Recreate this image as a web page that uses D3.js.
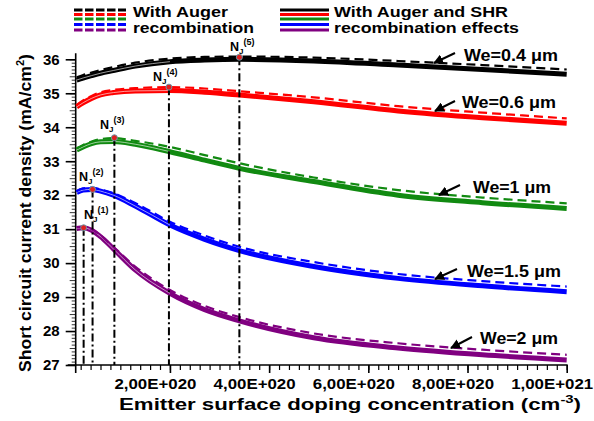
<!DOCTYPE html>
<html>
<head>
<meta charset="utf-8">
<script src="https://cdn.jsdelivr.net/npm/d3@7"></script>
<style>
  body { margin: 0; background: #fff; }
  svg text { font-family: "Liberation Sans", Arial, sans-serif; font-weight: bold; fill: #000; }
</style>
</head>
<body>
<svg id="chart" width="594" height="421"></svg>
<script>
// doping concentration, in units of 1E+20 cm^-3
const doping = [0.12, 0.25, 0.42, 0.6, 0.86, 1.3, 2.0, 2.7, 3.4, 4.9, 6.6, 8.3, 10.0];

// Jsc (mA/cm2), solid = Auger + SHR, dashed = Auger only
const we04Solid  = [35.39, 35.45, 35.52, 35.59, 35.67, 35.80, 35.93, 35.98, 36.00, 35.95, 35.83, 35.70, 35.56];
const we04Dashed = [35.47, 35.54, 35.61, 35.68, 35.77, 35.90, 36.02, 36.07, 36.08, 36.05, 35.95, 35.83, 35.70];
const we06Solid  = [34.60, 34.72, 34.85, 34.95, 35.02, 35.07, 35.08, 35.03, 34.95, 34.75, 34.48, 34.28, 34.12];
const we06Dashed = [34.66, 34.79, 34.92, 35.03, 35.10, 35.15, 35.18, 35.14, 35.06, 34.88, 34.62, 34.43, 34.26];
const we1Solid   = [33.33, 33.42, 33.52, 33.57, 33.58, 33.50, 33.28, 33.03, 32.79, 32.40, 32.00, 31.78, 31.61];
const we1Dashed  = [33.38, 33.48, 33.58, 33.65, 33.68, 33.60, 33.42, 33.18, 32.94, 32.52, 32.15, 31.93, 31.76];
const we15Solid  = [32.08, 32.15, 32.17, 32.12, 32.00, 31.68, 31.12, 30.70, 30.37, 29.90, 29.55, 29.33, 29.16];
const we15Dashed = [32.12, 32.20, 32.22, 32.17, 32.06, 31.77, 31.22, 30.81, 30.48, 30.03, 29.68, 29.47, 29.31];
const we2Solid   = [31.02, 31.04, 30.97, 30.78, 30.42, 29.80, 29.11, 28.63, 28.30, 27.80, 27.50, 27.30, 27.15];
const we2Dashed  = [31.05, 31.07, 31.00, 30.82, 30.48, 29.90, 29.21, 28.74, 28.41, 27.93, 27.64, 27.45, 27.30];

const seriesNames  = ["We=0.4 μm", "We=0.6 μm", "We=1 μm", "We=1.5 μm", "We=2 μm"];
const seriesColors = ["#000000", "#ff0000", "#118a11", "#0000ff", "#800080"];

// optimum doping points N_J(1..5)
const optN   = [0.26, 0.44, 0.88, 1.98, 3.4];
const optJsc = [31.04, 32.17, 33.69, 35.18, 36.06];
const optLabels = ["1", "2", "3", "4", "5"];

const xTickVals   = [2, 4, 6, 8, 10];
const xTickLabels = ["2,00E+020", "4,00E+020", "6,00E+020", "8,00E+020", "1,00E+021"];
const yTickVals   = [27, 28, 29, 30, 31, 32, 33, 34, 35, 36];

const solids  = [we04Solid, we06Solid, we1Solid, we15Solid, we2Solid];
const dasheds = [we04Dashed, we06Dashed, we1Dashed, we15Dashed, we2Dashed];

const svg = d3.select("#chart");
const x = d3.scaleLinear([0.1, 10], [75.7, 566.7]);
const y = d3.scaleLinear([27, 36], [365, 59.3]);

// axes
const xMinor = d3.range(2, 101, 2).map(v => v / 10);
svg.append("g")
  .attr("transform", `translate(0,${y(27)})`)
  .call(d3.axisBottom(x).tickValues(xMinor).tickSize(5).tickFormat(""))
  .call(g => g.select(".domain").attr("stroke-width", 1.6).attr("d", `M${x(0.1) - 8},0H${x(10) + 1}`))
  .call(g => g.selectAll(".tick line").attr("stroke-width", 1.2));
svg.append("g")
  .attr("transform", `translate(0,${y(27)})`)
  .call(d3.axisBottom(x).tickValues(xTickVals).tickSize(8).tickFormat((d, i) => xTickLabels[i]))
  .call(g => g.select(".domain").remove())
  .call(g => g.selectAll(".tick line").attr("stroke-width", 1.6))
  .call(g => g.selectAll(".tick text").attr("font-size", 14.5).attr("dx", -15).attr("dy", "0.9em")
    .attr("textLength", 82).attr("lengthAdjust", "spacingAndGlyphs"));

const yMinor = d3.range(270, 361, 1).map(v => v / 10);
svg.append("g")
  .attr("transform", `translate(${x(0.1)},0)`)
  .call(d3.axisLeft(y).tickValues(yMinor).tickSize(4).tickFormat(""))
  .call(g => g.select(".domain").attr("stroke-width", 1.6).attr("d", `M0,${y(27) + 8}V${y(36) - 6}`))
  .call(g => g.selectAll(".tick line").attr("stroke-width", 0.8)
    .attr("x2", d => Math.round(d * 10) % 5 === 0 ? -6 : -4));
svg.append("g")
  .attr("transform", `translate(${x(0.1)},0)`)
  .call(d3.axisLeft(y).tickValues(yTickVals).tickSize(10).tickFormat(d3.format("d")))
  .call(g => g.select(".domain").remove())
  .call(g => g.selectAll(".tick line").attr("stroke-width", 1.6))
  .call(g => g.selectAll(".tick text").attr("font-size", 15).attr("x", -16));

// axis titles
svg.append("text")
  .attr("x", 350).attr("y", 410)
  .attr("text-anchor", "middle").attr("font-size", 16.5)
  .attr("textLength", 462).attr("lengthAdjust", "spacingAndGlyphs")
  .call(t => {
    t.append("tspan").text("Emitter surface doping concentration (cm");
    t.append("tspan").text("-3").attr("font-size", 11).attr("dy", -7);
    t.append("tspan").text(")").attr("dy", 7);
  });
svg.append("text")
  .attr("transform", `translate(31,213) rotate(-90)`)
  .attr("text-anchor", "middle").attr("font-size", 16)
  .attr("textLength", 318).attr("lengthAdjust", "spacingAndGlyphs")
  .call(t => {
    t.append("tspan").text("Short circuit current density (mA/cm");
    t.append("tspan").text("2").attr("font-size", 10).attr("dy", -7);
    t.append("tspan").text(")").attr("dy", 7);
  });

// curves: solid drawn as a thick double line (white core on the rising part)
const line = d3.line().x(d => x(d[0])).y(d => y(d[1])).curve(d3.curveMonotoneX);
const curveG = svg.append("g");
seriesColors.forEach((c, i) => {
  const pts = doping.map((n, k) => [n, solids[i][k]]);
  curveG.append("path")
    .attr("d", line(pts))
    .attr("fill", "none").attr("stroke", c).attr("stroke-width", 5);
  curveG.append("path")
    .attr("d", line(pts.slice(0, 7)))
    .attr("fill", "none").attr("stroke", "#fff").attr("stroke-width", 0.8)
    .attr("stroke-opacity", 0.75);
  curveG.append("path")
    .attr("d", line(doping.map((n, k) => [n, dasheds[i][k]])))
    .attr("fill", "none").attr("stroke", c).attr("stroke-width", 2.2)
    .attr("stroke-dasharray", "9,5");
});

// optimum markers with dash-dot drop lines
const optG = svg.append("g");
optN.forEach((n, i) => {
  optG.append("line")
    .attr("x1", x(n)).attr("x2", x(n))
    .attr("y1", y(optJsc[i])).attr("y2", y(27))
    .attr("stroke", "#000").attr("stroke-width", 2)
    .attr("stroke-dasharray", "8,3,2,3");
  optG.append("circle")
    .attr("cx", x(n)).attr("cy", y(optJsc[i])).attr("r", 3)
    .attr("fill", "#e02020").attr("stroke", "#6a9aa8").attr("stroke-width", 1);
});
const optLabelPos = [[84, 219], [79, 181], [100, 129], [153, 81], [230, 51]];
optLabelPos.forEach((p, i) => {
  svg.append("text").attr("x", p[0]).attr("y", p[1]).attr("font-size", 12.5)
    .call(t => {
      t.append("tspan").text("N");
      t.append("tspan").text("J").attr("font-size", 8).attr("dy", 3);
      t.append("tspan").text(`(${optLabels[i]})`).attr("font-size", 9).attr("dy", -9);
    });
});

// We annotations with arrows
svg.append("defs").append("marker")
  .attr("id", "arrow").attr("viewBox", "0 0 10 10")
  .attr("refX", 9).attr("refY", 5)
  .attr("markerWidth", 5).attr("markerHeight", 5)
  .attr("orient", "auto")
  .append("path").attr("d", "M0,0L10,5L0,10z").attr("fill", "#000");
const annot = [
  { tx: 464, ty: 61, w: 94, a: [455, 53, 434, 63] },
  { tx: 462, ty: 108, w: 94, a: [455, 101, 435, 111] },
  { tx: 473, ty: 193, w: 78, a: [460, 185, 439, 195] },
  { tx: 467, ty: 277, w: 94, a: [457, 269, 435, 279] },
  { tx: 480, ty: 344, w: 78, a: [472, 337, 451, 348] },
];
annot.forEach((o, i) => {
  svg.append("line")
    .attr("x1", o.a[0]).attr("y1", o.a[1]).attr("x2", o.a[2]).attr("y2", o.a[3])
    .attr("stroke", "#000").attr("stroke-width", 2).attr("marker-end", "url(#arrow)");
  svg.append("text").attr("x", o.tx).attr("y", o.ty).attr("font-size", 17)
    .attr("textLength", o.w).attr("lengthAdjust", "spacingAndGlyphs")
    .text(seriesNames[i]);
});

// legend
const legendRowY = [10, 14.5, 19, 24.5, 30];
const legG = svg.append("g");
seriesColors.forEach((c, i) => {
  legG.append("line")
    .attr("x1", 74).attr("x2", 126).attr("y1", legendRowY[i]).attr("y2", legendRowY[i])
    .attr("stroke", c).attr("stroke-width", 3).attr("stroke-dasharray", "8.5,2.5");
  legG.append("line")
    .attr("x1", 280).attr("x2", 329).attr("y1", legendRowY[i]).attr("y2", legendRowY[i])
    .attr("stroke", c).attr("stroke-width", 3);
});
const legendText = [
  [133, 17, 95, "With Auger"],
  [133, 33, 121, "recombination"],
  [334, 17, 174, "With Auger and SHR"],
  [334, 33, 185, "recombination effects"],
];
legendText.forEach(d => {
  legG.append("text").attr("x", d[0]).attr("y", d[1]).attr("font-size", 15.5)
    .attr("textLength", d[2]).attr("lengthAdjust", "spacingAndGlyphs").text(d[3]);
});
</script>
</body>
</html>
